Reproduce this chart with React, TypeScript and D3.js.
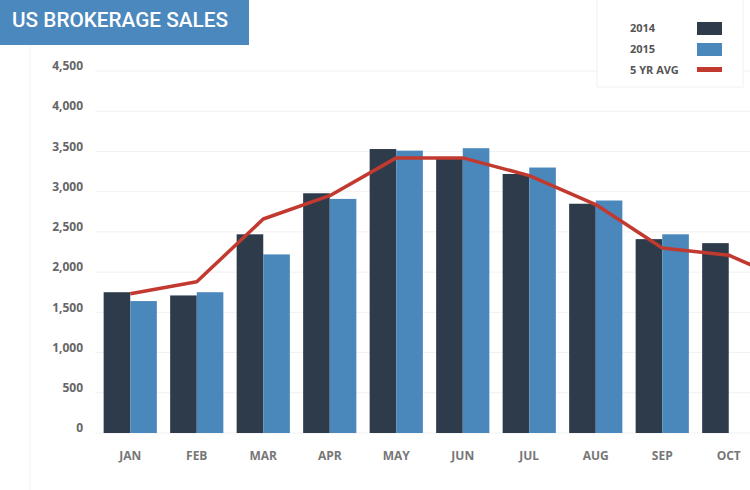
import React from 'react';
import {scaleBand, scaleLinear, line} from 'd3';

// months shown (NOV only carries the average, it falls off the right edge)
const months = ['JAN', 'FEB', 'MAR', 'APR', 'MAY', 'JUN', 'JUL', 'AUG', 'SEP', 'OCT', 'NOV'];
const sales2014 = [1750, 1710, 2470, 2980, 3530, 3410, 3220, 2850, 2410, 2360];
const sales2015 = [1640, 1750, 2220, 2910, 3510, 3540, 3300, 2890, 2470];
const fiveYrAvg = [1730, 1880, 2660, 2950, 3420, 3420, 3200, 2840, 2300, 2210, 1850];
const yTicks = [0, 500, 1000, 1500, 2000, 2500, 3000, 3500, 4000, 4500];
const legendItems = ['2014', '2015', '5 YR AVG'];

const width = 750;
const height = 490;
const dark = '#2e3b4b';
const blue = '#4a87bb';
const red = '#c23a2f';

export default function App() {
    const step = 66.5;
    const x0 = 97;
    const x = scaleBand()
        .domain(months)
        .range([x0, x0 + months.length * step])
        .paddingInner(0.2)
        .paddingOuter(0.1);
    const bw = x.bandwidth() / 2;

    const y = scaleLinear().domain([0, 4500]).range([433, 71]);

    const avgLine = line<number>()
        .x((d, i) => (x(months[i]) as number) + x.bandwidth() / 2)
        .y(d => y(d));

    const font = "'Open Sans', 'DejaVu Sans', sans-serif";

    return (
        <svg width={width} height={height}
             style={{position: 'absolute', left: 0, top: 0, background: '#fff'}}>
            {/* faint frame lines */}
            <line x1={30} x2={30} y1={45} y2={height} stroke="#f2f2f2" />

            {/* grid */}
            {yTicks.map(t => (
                <g key={t}>
                    <line x1={95} x2={width} y1={y(t)} y2={y(t)} stroke="#f1f1f1" />
                    <text x={83} y={y(t) - 4} textAnchor="end" dominantBaseline="middle"
                          fontFamily={font} fontWeight={700} fontSize={12} fill="#666">
                        {t.toLocaleString('en-US')}
                    </text>
                </g>
            ))}

            {/* bars */}
            {sales2014.map((v, i) => (
                <rect key={'a' + i} x={x(months[i])} y={y(v)} width={bw} height={y(0) - y(v)} fill={dark} />
            ))}
            {sales2015.map((v, i) => (
                <rect key={'b' + i} x={(x(months[i]) as number) + bw} y={y(v)} width={bw}
                      height={y(0) - y(v)} fill={blue} />
            ))}

            {/* 5 yr avg */}
            <path d={avgLine(fiveYrAvg) || ''} fill="none" stroke={red} strokeWidth={3.5}
                  strokeLinejoin="round" />

            {/* month labels, only the months with bars are in view */}
            {months.slice(0, sales2014.length).map(m => (
                <text key={m} x={(x(m) as number) + x.bandwidth() / 2} y={457} textAnchor="middle"
                      dominantBaseline="middle" fontFamily={font} fontWeight={700} fontSize={12} fill="#777">
                    {m}
                </text>
            ))}

            {/* title */}
            <rect x={0} y={0} width={249} height={45} fill="#4b88bd" />
            <text x={12} y={21} dominantBaseline="middle" fontFamily="Roboto, 'DejaVu Sans', sans-serif"
                  fontWeight={500} fontSize={21} fill="#fff" textLength={216} lengthAdjust="spacingAndGlyphs">
                US BROKERAGE SALES
            </text>

            {/* legend */}
            <rect x={597} y={-1} width={146} height={88} fill="#fff" stroke="#f0f0f0" />
            {legendItems.map((s, i) => (
                <g key={s}>
                    <text x={630} y={29 + i * 21} dominantBaseline="middle" fontFamily={font}
                          fontWeight={700} fontSize={11} fill="#555">
                        {s}
                    </text>
                    {i < 2 ? (
                        <rect x={697} y={22 + i * 21} width={25} height={13} fill={i === 0 ? dark : blue} />
                    ) : (
                        <rect x={697} y={67} width={25} height={5} fill={red} />
                    )}
                </g>
            ))}
        </svg>
    );
}
